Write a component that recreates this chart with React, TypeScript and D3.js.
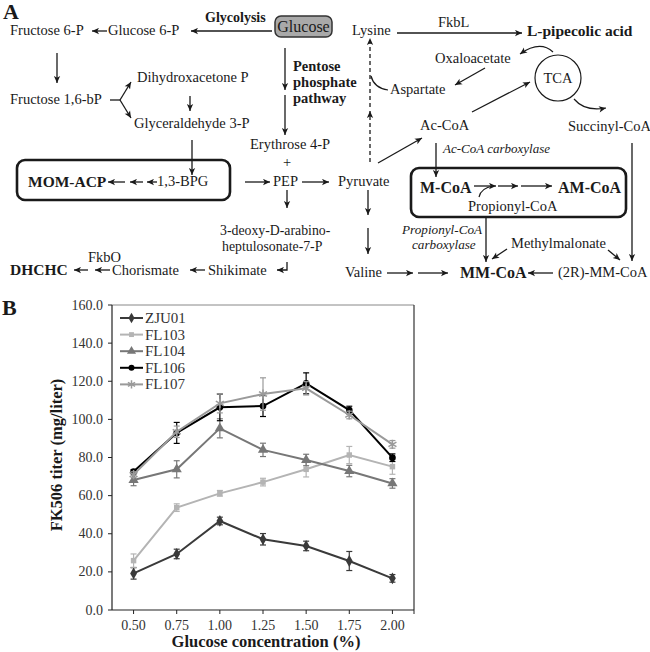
import React from "react";
import * as d3 from "d3";

// ---------- Panel B data ----------
const glucoseLevels = ["0.50", "0.75", "1.00", "1.25", "1.50", "1.75", "2.00"];
const seriesNames = ["ZJU01", "FL103", "FL104", "FL106", "FL107"];
const zju01 = [19.2, 29.4, 46.7, 37.1, 33.6, 25.7, 16.6];
const zju01Err = [3, 2.5, 2, 3, 2.5, 5, 2];
const fl103 = [25.9, 53.7, 61.2, 67.1, 73.8, 81.3, 75.2];
const fl103Err = [3.5, 2, 1.5, 2, 4, 4.5, 4];
const fl104 = [68.2, 73.8, 95.3, 84, 78.7, 72.9, 66.4];
const fl104Err = [3, 4.5, 5, 3.5, 3, 3, 2.5];
const fl106 = [72.6, 92.9, 106.3, 107, 118.9, 104.9, 79.9];
const fl106Err = [1, 5.5, 7, 5.5, 5.5, 2, 2];
const fl107 = [71, 93.5, 108.4, 113.3, 116.3, 102.3, 86.9];
const fl107Err = [1.5, 3, 5, 8.5, 3.5, 2, 2];
const yTicks = [0, 20, 40, 60, 80, 100, 120, 140, 160];

const seriesValues = [zju01, fl103, fl104, fl106, fl107];
const seriesErrors = [zju01Err, fl103Err, fl104Err, fl106Err, fl107Err];
const seriesColors = ["#3a3a3a", "#b4b4b4", "#777777", "#000000", "#9a9a9a"];
const seriesSymbols = [d3.symbolDiamond, d3.symbolSquare, d3.symbolTriangle, d3.symbolCircle, d3.symbolAsterisk];
const symbolSizes = [40, 30, 45, 35, 60];

// ---------- Panel A labels (layout) ----------
type Lbl = { t: string[]; x: number; y: number; w?: string; i?: boolean; s?: number; a?: string; dx?: number[]; lh?: number };
const labels: Lbl[] = [
  { t: ["Fructose 6-P"], x: 10, y: 35 },
  { t: ["Glucose 6-P"], x: 108, y: 35 },
  { t: ["Glycolysis"], x: 205, y: 22, w: "bold", s: 14 },
  { t: ["Pentose", "phosphate", "pathway"], x: 293, y: 71, w: "bold", s: 14.5, lh: 16 },
  { t: ["Dihydroxacetone P"], x: 137, y: 82 },
  { t: ["Fructose 1,6-bP"], x: 10, y: 104 },
  { t: ["Glyceraldehyde 3-P"], x: 134, y: 128 },
  { t: ["Erythrose 4-P"], x: 250, y: 149 },
  { t: ["+"], x: 287, y: 167, a: "middle" },
  { t: ["MOM-ACP"], x: 28, y: 187, w: "bold", s: 15.5 },
  { t: ["1,3-BPG"], x: 157, y: 186 },
  { t: ["PEP"], x: 273, y: 186 },
  { t: ["Pyruvate"], x: 338, y: 186 },
  { t: ["3-deoxy-D-arabino-", "heptulosonate-7-P"], x: 220, y: 235, s: 13.8, dx: [0, 2], lh: 15.5 },
  { t: ["FkbO"], x: 88, y: 262 },
  { t: ["DHCHC"], x: 10, y: 275, w: "bold", s: 15.5 },
  { t: ["Chorismate"], x: 112, y: 275 },
  { t: ["Shikimate"], x: 208, y: 275 },
  { t: ["Lysine"], x: 352, y: 35 },
  { t: ["FkbL"], x: 438, y: 27 },
  { t: ["L-pipecolic acid"], x: 527, y: 36, w: "bold", s: 15.5 },
  { t: ["Oxaloacetate"], x: 435, y: 63 },
  { t: ["TCA"], x: 558, y: 83, a: "middle", s: 14.5 },
  { t: ["Aspartate"], x: 390, y: 94 },
  { t: ["Ac-CoA"], x: 420, y: 130 },
  { t: ["Succinyl-CoA"], x: 568, y: 131 },
  { t: ["Ac-CoA carboxylase"], x: 443, y: 153, i: true, s: 13 },
  { t: ["M-CoA"], x: 420, y: 193, w: "bold", s: 16 },
  { t: ["AM-CoA"], x: 558, y: 193, w: "bold", s: 16 },
  { t: ["Propionyl-CoA"], x: 468, y: 211 },
  { t: ["Propionyl-CoA", "carboxylase"], x: 402, y: 234, i: true, s: 13.2, dx: [0, 10], lh: 15 },
  { t: ["Methylmalonate"], x: 511, y: 248 },
  { t: ["Valine"], x: 345, y: 277 },
  { t: ["MM-CoA"], x: 460, y: 278, w: "bold", s: 16 },
  { t: ["(2R)-MM-CoA"], x: 558, y: 277 },
];

const arrows: number[][] = [
  [107, 31, 92, 31],
  [272, 31, 191, 31],
  [285, 48, 285, 90],
  [285, 95, 285, 135],
  [57, 53, 57, 83],
  [120, 100, 131, 82],
  [120, 100, 131, 118],
  [190, 96, 190, 111],
  [192, 140, 192, 175],
  [125, 182, 108, 182],
  [143, 182, 130, 182],
  [157, 182, 147, 182],
  [245, 182, 270, 182],
  [302, 182, 329, 182],
  [287, 190, 287, 208],
  [205, 270, 190, 270],
  [88, 270, 74, 270],
  [110, 270, 95, 270],
  [397, 33, 522, 33],
  [485, 68, 455, 85],
  [472, 112, 530, 82],
  [378, 163, 422, 138],
  [436, 143, 436, 177],
  [632, 143, 632, 261],
  [474, 186, 496, 186],
  [498, 186, 518, 186],
  [521, 186, 552, 186],
  [368, 190, 368, 215],
  [368, 228, 368, 254],
  [486, 218, 486, 262],
  [507, 249, 492, 259],
  [608, 250, 620, 260],
  [387, 273, 413, 273],
  [418, 273, 448, 273],
  [553, 273, 528, 273],
];

const X0 = 112, X1 = 414, Y0 = 610, Y1 = 305;
const SERIF = "Liberation Serif";

export default function App() {
  const x = d3.scalePoint<string>().domain(glucoseLevels).range([X0, X1]).padding(0.5);
  const y = d3.scaleLinear().domain([0, 160]).range([Y0, Y1]);
  const line = d3.line<number>().x((_, i) => x(glucoseLevels[i]) as number).y((v) => y(v));
  const ink = "#1a1a1a";
  const tf = { fontFamily: SERIF };

  return (
    <div style={{ position: "absolute", left: 0, top: 0 }}>
      <svg width={650} height={652} style={{ display: "block", background: "#fff", fontFamily: SERIF }}>
        <defs>
          <marker id="ah" viewBox="0 0 10 10" refX="10" refY="5" markerWidth="8" markerHeight="7" markerUnits="userSpaceOnUse" orient="auto">
            <path d="M0,0.5 L10,5 L0,9.5 L2.5,5 z" fill={ink} />
          </marker>
        </defs>

        {/* ---------- Panel A ---------- */}
        <text x={3} y={19} fontSize={22} fontWeight="bold" fill={ink} style={tf}>A</text>
        <rect x={275} y={16} width={57} height={21} rx={6} fill="#a9a9a9" stroke="#333" strokeWidth={1.5} />
        <text x={303.5} y={31.5} fontSize={16} textAnchor="middle" fill={ink} style={tf}>Glucose</text>
        <rect x={17} y={160} width={213} height={40} rx={8} fill="none" stroke={ink} strokeWidth={2.6} />
        <rect x={411} y={168} width={215} height={49} rx={8} fill="none" stroke={ink} strokeWidth={2.6} />
        <circle cx={558} cy={78} r={23} fill="none" stroke={ink} strokeWidth={1.2} />
        {labels.map((l, i) => (
          <text key={i} x={l.x} y={l.y} fontSize={l.s ?? 14.5} fontWeight={l.w ?? "normal"}
            fontStyle={l.i ? "italic" : "normal"} textAnchor={l.a ?? "start"} fill={ink} style={tf}>
            {l.t.length === 1
              ? l.t[0]
              : l.t.map((s, k) => (
                  <tspan key={k} x={l.x + (l.dx ? l.dx[k] : 0)} y={l.y + k * (l.lh ?? 15)}>{s}</tspan>
                ))}
          </text>
        ))}
        {arrows.map((a, i) => (
          <line key={i} x1={a[0]} y1={a[1]} x2={a[2]} y2={a[3]} stroke={ink} strokeWidth={1.3} markerEnd="url(#ah)" />
        ))}
        <line x1={110} y1={100} x2={120} y2={100} stroke={ink} strokeWidth={1.3} />
        <path d="M287,262 L287,270 L277,270" fill="none" stroke={ink} strokeWidth={1.3} markerEnd="url(#ah)" />
        <line x1={370} y1={162} x2={370} y2={111} stroke={ink} strokeWidth={1.3} strokeDasharray="4,3" markerEnd="url(#ah)" />
        <line x1={370} y1={107} x2={370} y2={38} stroke={ink} strokeWidth={1.3} strokeDasharray="4,3" markerEnd="url(#ah)" />
        <path d="M388,90 Q374,88 371,76" fill="none" stroke={ink} strokeWidth={1.2} />
        <path d="M553,52 Q540,40 520,54" fill="none" stroke={ink} strokeWidth={1.2} markerEnd="url(#ah)" />
        <path d="M574,99 Q585,112 606,108" fill="none" stroke={ink} strokeWidth={1.2} markerEnd="url(#ah)" />
        <path d="M479,197 Q481,188 493,186" fill="none" stroke={ink} strokeWidth={1.2} />

        {/* ---------- Panel B ---------- */}
        <text x={2} y={315} fontSize={22} fontWeight="bold" fill={ink} style={tf}>B</text>
        <line x1={X0} y1={Y1} x2={X1} y2={Y1} stroke="#888" strokeWidth={1} />
        <line x1={X1} y1={Y1} x2={X1} y2={Y0} stroke="#333" strokeWidth={1.2} />
        <line x1={X0} y1={Y1} x2={X0} y2={Y0} stroke="#222" strokeWidth={1.2} />
        <line x1={X0} y1={Y0} x2={X1} y2={Y0} stroke="#222" strokeWidth={1.2} />
        {yTicks.map((t) => (
          <g key={t}>
            <line x1={X0 - 4} x2={X0} y1={y(t)} y2={y(t)} stroke="#222" />
            <text x={103} y={y(t) + 4.5} fontSize={14} textAnchor="end" fill="#333" style={tf}>{t.toFixed(1)}</text>
          </g>
        ))}
        {glucoseLevels.map((g) => (
          <g key={g}>
            <line x1={x(g)} x2={x(g)} y1={Y0} y2={Y0 + 4} stroke="#222" />
            <text x={x(g)} y={630} fontSize={14} textAnchor="middle" fill="#333" style={tf}>{g}</text>
          </g>
        ))}
        <line x1={X1} x2={X1} y1={Y0} y2={Y0 + 4} stroke="#222" />
        <text transform={`translate(62,455) rotate(-90)`} fontSize={16.5} fontWeight="bold" textAnchor="middle" fill={ink} style={tf}>FK506 titer (mg/liter)</text>
        <text x={266} y={647} fontSize={16.5} fontWeight="bold" textAnchor="middle" fill={ink} style={tf}>Glucose concentration (%)</text>

        {seriesValues.map((vals, si) => {
          const c = seriesColors[si];
          const sym = d3.symbol().type(seriesSymbols[si]).size(symbolSizes[si])() as string;
          const stroked = si === 4;
          return (
            <g key={si}>
              <path d={line(vals) as string} fill="none" stroke={c} strokeWidth={2} />
              {vals.map((v, i) => {
                const cx = x(glucoseLevels[i]) as number;
                const e = seriesErrors[si][i];
                return (
                  <g key={i}>
                    <line x1={cx} x2={cx} y1={y(v - e)} y2={y(v + e)} stroke={c} strokeWidth={1.2} />
                    <line x1={cx - 3} x2={cx + 3} y1={y(v - e)} y2={y(v - e)} stroke={c} strokeWidth={1.2} />
                    <line x1={cx - 3} x2={cx + 3} y1={y(v + e)} y2={y(v + e)} stroke={c} strokeWidth={1.2} />
                    <path d={sym} transform={`translate(${cx},${y(v)})`} fill={stroked ? "none" : c} stroke={c} strokeWidth={stroked ? 1.5 : 0} />
                  </g>
                );
              })}
            </g>
          );
        })}

        {seriesNames.map((n, si) => {
          const ly = 318 + si * 16.6;
          const c = seriesColors[si];
          const sym = d3.symbol().type(seriesSymbols[si]).size(symbolSizes[si] * 0.8)() as string;
          return (
            <g key={n}>
              <line x1={120} x2={143} y1={ly} y2={ly} stroke={c} strokeWidth={2} />
              <path d={sym} transform={`translate(131.5,${ly})`} fill={si === 4 ? "none" : c} stroke={c} strokeWidth={si === 4 ? 1.5 : 0} />
              <text x={145} y={ly + 5} fontSize={15} fill="#333" style={tf}>{n}</text>
            </g>
          );
        })}
      </svg>
    </div>
  );
}
